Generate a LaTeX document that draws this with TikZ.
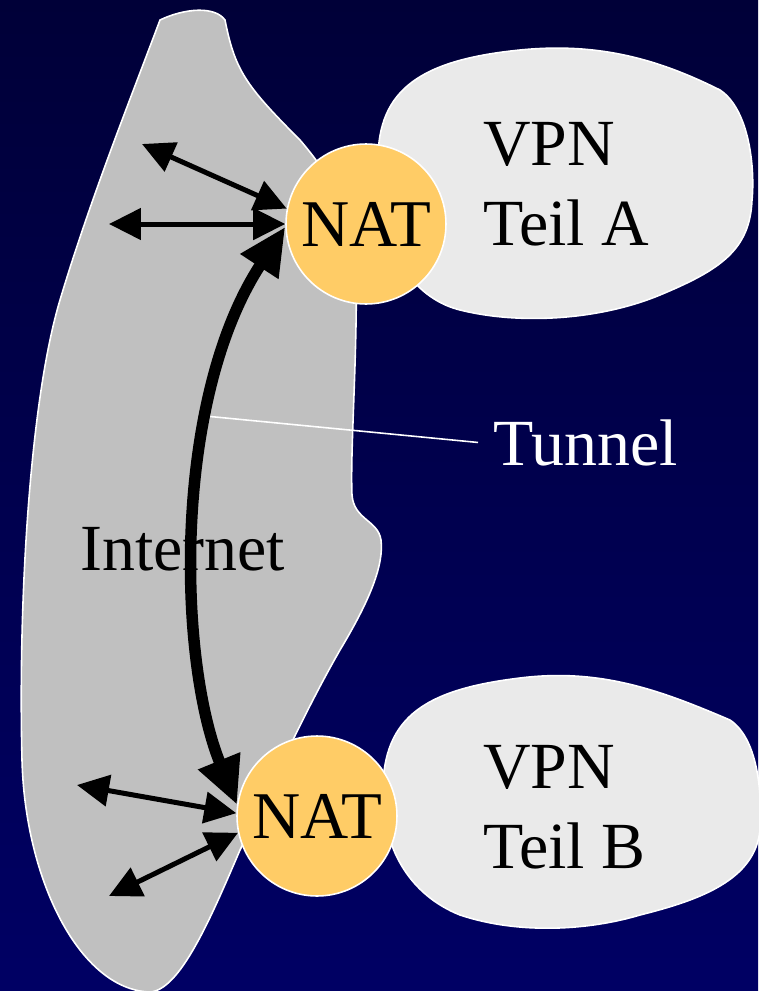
\documentclass[tikz,border=0pt]{standalone}
\usepackage{fontspec}
\setmainfont{Liberation Serif}
\usetikzlibrary{arrows.meta}

\definecolor{skytop}{RGB}{0,0,56}
\definecolor{skybot}{RGB}{0,0,100}
\definecolor{netgray}{RGB}{192,192,192}
\definecolor{lanlight}{RGB}{234,234,234}
\definecolor{natfill}{RGB}{255,204,102}

\tikzset{
  inet/.style={fill=netgray,draw=white,line width=0.9pt},
  lan/.style={fill=lanlight,draw=white,line width=0.9pt},
  nat/.style={circle,fill=natfill,draw=white,line width=0.9pt,
    minimum size=3.2cm,inner sep=0pt,font=\fontsize{38}{45.5}\selectfont},
  label/.style={inner sep=0pt,align=left,font=\fontsize{37.5}{45.5}\selectfont},
  flow/.style={line width=0.1cm,{Triangle[length=0.64cm,width=0.62cm]}-{Triangle[length=0.64cm,width=0.62cm]}},
  tunnel/.style={line width=0.23cm,{Triangle[length=0.95cm,width=0.85cm]}-{Triangle[length=0.95cm,width=0.85cm]}}
}

\begin{document}
\begin{tikzpicture}[x=0.02cm,y=-0.02cm]
  \shade[top color=skytop,bottom color=skybot] (0,0) rectangle (758,991);
  \useasboundingbox (0,0) rectangle (758,991);

  % internet cloud
  \draw[inet] (160,20) .. controls (185,8) and (215,6) .. (225,20)
    .. controls (235,70) and (245,85) .. (300,140)
    .. controls (330,175) and (350,210) .. (356,260)
    .. controls (358,350) and (350,450) .. (352,495)
    .. controls (354,520) and (378,520) .. (381,540)
    .. controls (384,565) and (370,600) .. (340,650)
    .. controls (300,720) and (270,790) .. (240,850)
    .. controls (210,920) and (180,990) .. (150,992)
    .. controls (80,990) and (25,880) .. (22,760)
    .. controls (18,600) and (30,400) .. (60,300)
    .. controls (90,200) and (130,100) .. (160,20) -- cycle;

  % the two private networks
  \draw[lan] (378,160) .. controls (378,90) and (420,60) .. (520,50)
    .. controls (600,42) and (660,60) .. (720,90)
    .. controls (750,110) and (755,170) .. (752,200)
    .. controls (750,250) and (720,270) .. (660,295)
    .. controls (600,320) and (520,325) .. (460,310)
    .. controls (420,300) and (378,260) .. (378,160) -- cycle;
  \draw[lan] (383,800) .. controls (380,720) and (420,690) .. (520,678)
    .. controls (600,668) and (660,690) .. (730,720)
    .. controls (760,740) and (762,800) .. (760,830)
    .. controls (755,880) and (700,900) .. (640,915)
    .. controls (590,930) and (520,935) .. (460,915)
    .. controls (410,895) and (385,850) .. (383,800) -- cycle;

  \node[label,anchor=base west] (LanA) at (483,245) {VPN\\Teil A};
  \node[label,anchor=base west] (LanB) at (483,868) {VPN\\Teil B};
  \node[label,anchor=base west] (Net) at (80,570) {Internet};
  \node[label,anchor=base west,text=white,inner xsep=0.3cm] (Tun) at (478,465) {Tunnel};

  \node[nat] (NatA) at (366,224) {NAT};
  \node[nat] (NatB) at (317,816) {NAT};

  \coordinate (A1) at (142,144);
  \coordinate (A2) at (109,224);
  \coordinate (B1) at (77,785);
  \coordinate (B2) at (109,896);
  \coordinate (TunPt) at (205,416);

  \draw[white,line width=0.9pt] (TunPt) -- (Tun.west);

  \draw[flow] (A1) -- (NatA.169);
  \draw[flow] (A2) -- (NatA.west);
  \draw[flow] (B1) -- (NatB.178);
  \draw[flow] (B2) -- (NatB.192);

  \draw[tunnel] (NatB.172) .. controls (178,660) and (172,400) .. (NatA.182);
\end{tikzpicture}
\end{document}
